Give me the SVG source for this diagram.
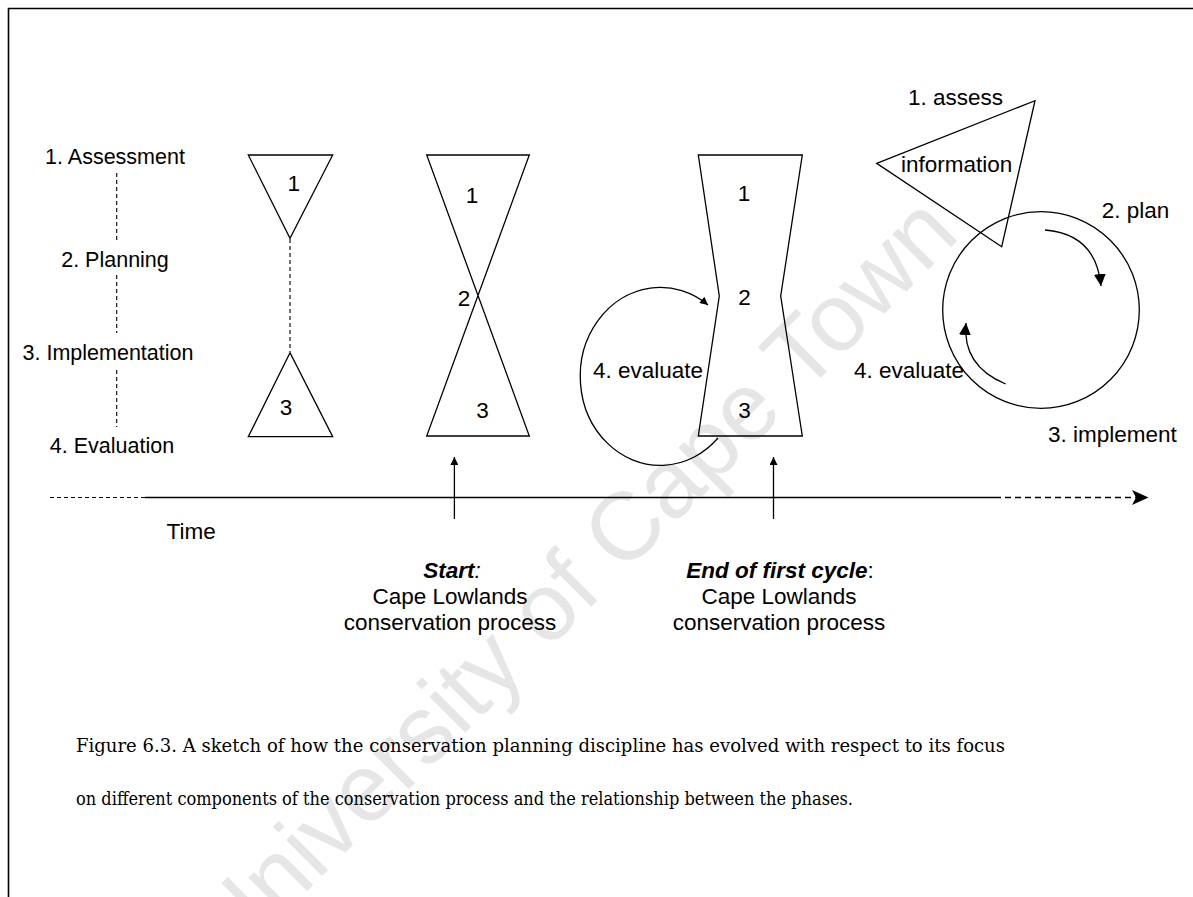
<svg xmlns="http://www.w3.org/2000/svg" width="1193" height="897" viewBox="0 0 1193 897">
<style>
.s{fill:none;stroke:#000;stroke-width:1.3}
.t{font-family:"Liberation Sans",Arial,sans-serif;font-size:22.5px;fill:#000}
.l{font-family:"Liberation Sans",Arial,sans-serif;font-size:21.5px;fill:#000}
.c{font-family:"DejaVu Serif","Liberation Serif",serif;font-size:18.5px;fill:#000}
.d{fill:none;stroke:#000;stroke-width:1.1;stroke-dasharray:4 3}
.wm{font-family:"Liberation Sans",Arial,sans-serif;font-size:96px;fill:#e6e6e6}
</style>
<defs>
<marker id="ah" viewBox="0 0 10 10" refX="10" refY="5" markerWidth="10" markerHeight="8" markerUnits="userSpaceOnUse" orient="auto"><path d="M0,0 L10,5 L0,10 Z" fill="#000"/></marker>
<marker id="ah2" viewBox="0 0 10 10" refX="10" refY="5" markerWidth="12" markerHeight="14" markerUnits="userSpaceOnUse" orient="auto"><path d="M0,0 L10,5 L0,10 Z" fill="#000"/></marker>
</defs>
<rect width="1193" height="897" fill="#fff"/>
<g id="watermark"><text class="wm" transform="translate(572,578) rotate(-45)" x="0" y="34" text-anchor="middle">University of Cape Town</text></g>
<path d="M8.5,897 V8.5 H1193" fill="none" stroke="#000" stroke-width="1.6"/>
<g id="phase-labels">
<text class="l" x="115" y="163.5" text-anchor="middle">1. Assessment</text>
<text class="l" x="115" y="267" text-anchor="middle">2. Planning</text>
<text class="l" x="108" y="360" text-anchor="middle">3. Implementation</text>
<text class="l" x="112" y="453" text-anchor="middle">4. Evaluation</text>
<line class="d" x1="116.7" y1="173" x2="116.7" y2="240"/>
<line class="d" x1="116.7" y1="275" x2="116.7" y2="333"/>
<line class="d" x1="116.7" y1="370" x2="116.7" y2="427"/>
</g>
<g id="stage1">
<polygon class="s" points="248.3,155 332.7,155 290,238.3"/>
<polygon class="s" points="290,352.7 248.3,436.7 332.7,436.7"/>
<line class="d" x1="290" y1="239" x2="290" y2="352"/>
<text class="t" x="293.8" y="191" text-anchor="middle">1</text>
<text class="t" x="286" y="415" text-anchor="middle">3</text>
</g>
<g id="stage2">
<polygon class="s" points="426.7,155 529.3,155 426.7,436 529.3,436"/>
<text class="t" x="472" y="203" text-anchor="middle">1</text>
<text class="t" x="464" y="306" text-anchor="middle">2</text>
<text class="t" x="482.5" y="418.3" text-anchor="middle">3</text>
</g>
<g id="stage3">
<polygon class="s" points="698.3,155 802.3,155 780.7,296 802.3,436 698.3,436 719.3,296"/>
<text class="t" x="744" y="201" text-anchor="middle">1</text>
<text class="t" x="744.5" y="305" text-anchor="middle">2</text>
<text class="t" x="744.5" y="418.3" text-anchor="middle">3</text>
<text class="t" x="703" y="378.3" text-anchor="end">4. evaluate</text>
</g>
<g id="stage4">
<polygon class="s" points="876.7,163.3 1035,100.7 1001.7,246.7"/>
<circle class="s" cx="1041" cy="310" r="98.3"/>
<text class="t" x="908" y="105">1. assess</text>
<text class="t" x="901" y="171.7">information</text>
<text class="t" x="1101.7" y="218.3">2. plan</text>
<text class="t" x="1048" y="441.7">3. implement</text>
<text class="t" x="964" y="378" text-anchor="end">4. evaluate</text>
</g>
<g id="axis">
<line x1="50" y1="497.5" x2="145" y2="497.5" stroke="#000" stroke-width="1.2" stroke-dasharray="4 3"/>
<line x1="145" y1="497.5" x2="995" y2="497.5" stroke="#000" stroke-width="1.3"/>
<line x1="995" y1="497.5" x2="1140" y2="497.5" stroke="#000" stroke-width="1.5" stroke-dasharray="6 4"/>
<path d="M1148.5,497.5 L1132,490 L1136,497.5 L1132,505 Z" fill="#000"/>
<text class="t" x="166.5" y="538.5">Time</text>
</g>
<g id="connectors">
<path class="s" d="M718,438 A80,89 0 1 1 708,305" marker-end="url(#ah)"/>
<path class="s" d="M1045,230 Q1096,234 1101,286" marker-end="url(#ah2)"/>
<path class="s" d="M1005.7,384 Q962,366 966,323" marker-end="url(#ah2)"/>
<line class="s" x1="454.4" y1="519" x2="454.4" y2="457" marker-end="url(#ah)"/>
<line class="s" x1="773.5" y1="519" x2="773.5" y2="457" marker-end="url(#ah)"/>
</g>
<g id="milestones">
<text class="t" x="452" y="578" text-anchor="middle"><tspan font-weight="bold" font-style="italic">Start</tspan><tspan font-style="italic">:</tspan></text>
<text class="t" x="450" y="604" text-anchor="middle">Cape Lowlands</text>
<text class="t" x="450" y="629.5" text-anchor="middle">conservation process</text>
<text class="t" x="780" y="578" text-anchor="middle"><tspan font-weight="bold" font-style="italic">End of first cycle</tspan>:</text>
<text class="t" x="779" y="604" text-anchor="middle">Cape Lowlands</text>
<text class="t" x="779" y="629.5" text-anchor="middle">conservation process</text>
</g>
<g id="caption">
<text class="c" x="76" y="752" textLength="929" lengthAdjust="spacingAndGlyphs">Figure 6.3. A sketch of how the conservation planning discipline has evolved with respect to its focus</text>
<text class="c" x="76" y="805" textLength="777" lengthAdjust="spacingAndGlyphs">on different components of the conservation process and the relationship between the phases.</text>
</g>
</svg>
